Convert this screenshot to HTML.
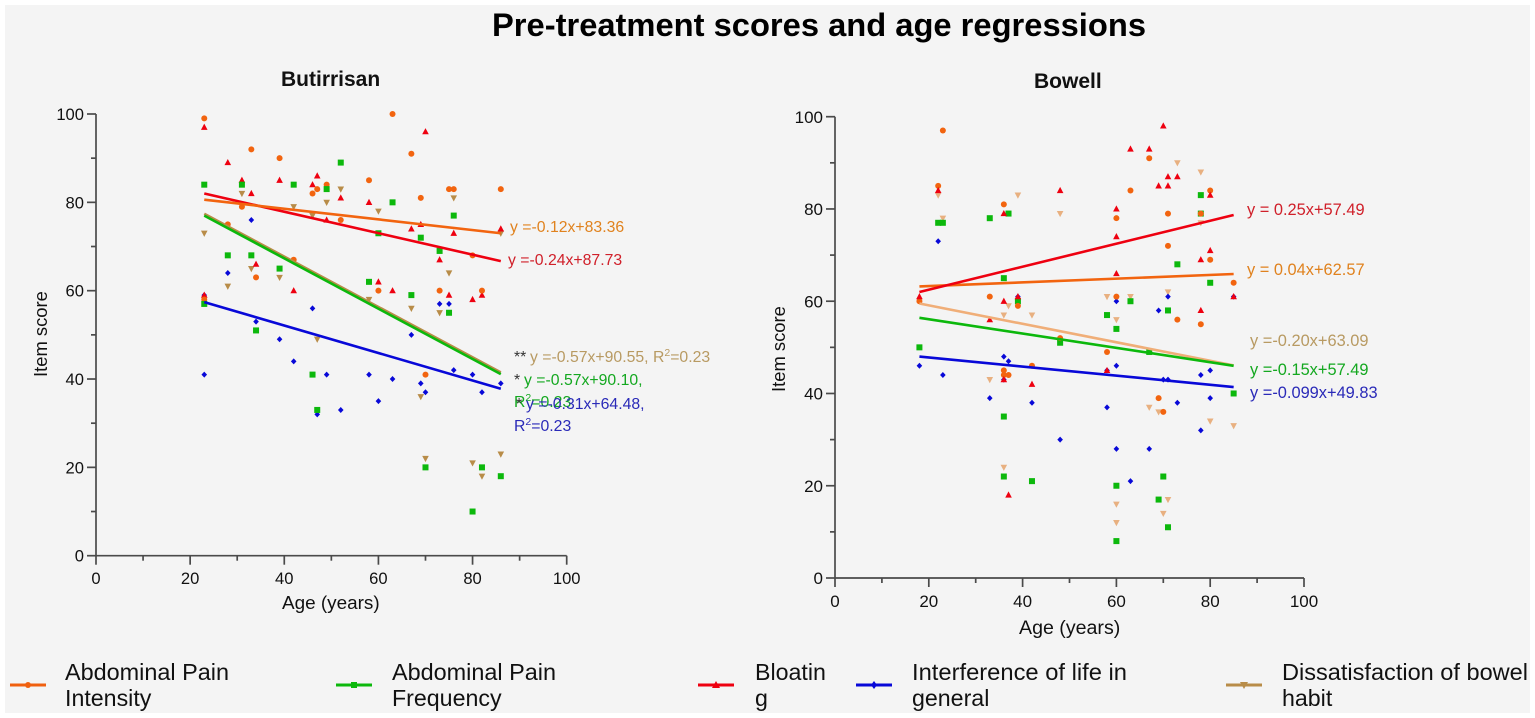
<!DOCTYPE html>
<html lang="en">
<head>
<meta charset="utf-8">
<title>Pre-treatment scores and age regressions</title>
<style>
html,body{margin:0;padding:0;background:#fff;}
body{width:1535px;height:718px;overflow:hidden;}
svg{display:block;font-family:"Liberation Sans",Arial,sans-serif;filter:blur(0.35px);}
</style>
</head>
<body>
<svg id="figure" width="1535" height="718" viewBox="0 0 1535 718" xmlns="http://www.w3.org/2000/svg">
  <rect x="5" y="5" width="1525" height="708" fill="#f4f4f4"/>
  <text x="492" y="36" font-size="32" font-weight="bold" fill="#000" textLength="654" lengthAdjust="spacingAndGlyphs">Pre-treatment scores and age regressions</text>

  <text x="281" y="86" font-size="21" font-weight="bold" fill="#111">Butirrisan</text>
  <text x="1034" y="88" font-size="21" font-weight="bold" fill="#111">Bowell</text>

  <g id="panel-left"></g>
  <g id="panel-right"></g>

  <text x="282" y="609" font-size="18.9" fill="#111">Age (years)</text>
  <text transform="translate(47,377) rotate(-90)" font-size="18.4" fill="#111">Item score</text>
  <text x="1019" y="634" font-size="19.6" fill="#111">Age (years)</text>
  <text transform="translate(785,392) rotate(-90)" font-size="18.4" fill="#111">Item score</text>

  <g font-size="15.8">
    <text x="510" y="232" fill="#e0821e">y =-0.12x+83.36</text>
    <text x="508" y="265" fill="#d0202a">y =-0.24x+87.73</text>
    <text x="514" y="362" fill="#333">**</text>
    <text x="530" y="362" fill="#b89a62">y =-0.57x+90.55, R<tspan dy="-6" font-size="10.5">2</tspan><tspan dy="6">=0.23</tspan></text>
    <text x="514" y="385" fill="#333">*</text>
    <text x="524" y="385" fill="#14a820">y =-0.57x+90.10,</text>
    <text x="514" y="407" fill="#14a820">R<tspan dy="-6" font-size="10.5">2</tspan><tspan dy="6">=0.23</tspan></text>
    <text x="516" y="409" fill="#333">*</text>
    <text x="526" y="409" fill="#2a2ab8">y =-0.31x+64.48,</text>
    <text x="514" y="431" fill="#2a2ab8">R<tspan dy="-6" font-size="10.5">2</tspan><tspan dy="6">=0.23</tspan></text>
  </g>

  <g font-size="16.4">
    <text x="1247" y="215" fill="#d0202a">y = 0.25x+57.49</text>
    <text x="1247" y="275" fill="#e0821e">y = 0.04x+62.57</text>
    <text x="1250" y="346" fill="#b89a62">y =-0.20x+63.09</text>
    <text x="1250" y="375" fill="#14a820">y =-0.15x+57.49</text>
    <text x="1250" y="398" fill="#2a2ab8">y =-0.099x+49.83</text>
  </g>

  <g font-size="23.2" fill="#111">
    <g>
      <line x1="10" x2="46" y1="685" y2="685" stroke="#f0600f" stroke-width="3"/>
      <circle cx="28" cy="685" r="3" fill="#f0600f"/>
      <text x="65" y="680" textLength="164" lengthAdjust="spacingAndGlyphs">Abdominal Pain</text>
      <text x="65" y="706">Intensity</text>
    </g>
    <g>
      <line x1="336" x2="372" y1="685" y2="685" stroke="#0cb80c" stroke-width="3"/>
      <rect x="351" y="682" width="6" height="6" fill="#0cb80c"/>
      <text x="392" y="680" textLength="164" lengthAdjust="spacingAndGlyphs">Abdominal Pain</text>
      <text x="392" y="706">Frequency</text>
    </g>
    <g>
      <line x1="698" x2="734" y1="685" y2="685" stroke="#ee0010" stroke-width="3"/>
      <polygon points="716,681 720,688 712,688" fill="#ee0010"/>
      <text x="755" y="680">Bloatin</text>
      <text x="755" y="706">g</text>
    </g>
    <g>
      <line x1="856" x2="892" y1="685" y2="685" stroke="#0808d8" stroke-width="3"/>
      <polygon points="874,681 877,685 874,689 871,685" fill="#0808d8"/>
      <text x="912" y="680" textLength="215" lengthAdjust="spacingAndGlyphs">Interference of life in</text>
      <text x="912" y="706">general</text>
    </g>
    <g>
      <line x1="1226" x2="1262" y1="685" y2="685" stroke="#b88c48" stroke-width="3"/>
      <polygon points="1240,682 1248,682 1244,689" fill="#b88c48"/>
      <text x="1282" y="680" textLength="246" lengthAdjust="spacingAndGlyphs">Dissatisfaction of bowel</text>
      <text x="1282" y="706">habit</text>
    </g>
  </g>
</svg>

<script>
// Axis tick values
const xTickValues = [0, 20, 40, 60, 80, 100];
const yTickValues = [0, 20, 40, 60, 80, 100];
const xMinorTickValues = [10, 30, 50, 70, 90];
const yMinorTickValues = [10, 30, 50, 70, 90];

// Butirrisan scatter data
const leftIntensityAge = [23,23,28,31,33,34,39,42,46,47,49,52,58,60,63,67,69,70,73,75,76,80,82,86];
const leftIntensityScore = [99,58,75,79,92,63,90,67,82,83,84,76,85,60,100,91,81,41,60,83,83,68,60,83];
const leftFrequencyAge = [23,23,28,31,33,34,39,42,46,47,49,52,58,60,63,67,69,70,73,75,76,80,82,86];
const leftFrequencyScore = [84,57,68,84,68,51,65,84,41,33,83,89,62,73,80,59,72,20,69,55,77,10,20,18];
const leftBloatingAge = [23,23,28,31,33,34,39,42,46,47,49,52,58,60,63,67,69,70,73,75,76,80,82,86];
const leftBloatingScore = [97,59,89,85,82,66,85,60,84,86,76,81,80,62,60,74,75,96,67,59,73,58,59,74];
const leftInterferenceAge = [23,23,28,33,34,39,42,46,47,49,52,58,60,63,67,69,70,73,75,76,80,82,86];
const leftInterferenceScore = [59,41,64,76,53,49,44,56,32,41,33,41,35,40,50,39,37,57,57,42,41,37,39];
const leftDissatisfactionAge = [23,28,31,33,39,42,46,47,49,52,58,60,67,69,70,73,75,76,80,82,86,86];
const leftDissatisfactionScore = [73,61,82,65,63,79,77,49,80,83,58,78,56,36,22,55,64,81,21,18,23,73];

// Bowell scatter data
const rightIntensityAge = [18,22,23,33,36,36,36,37,39,42,48,58,60,60,63,67,69,70,71,71,73,78,78,80,80,85];
const rightIntensityScore = [60,85,97,61,81,45,44,44,59,46,52,49,78,61,84,91,39,36,79,72,56,79,55,84,69,64];
const rightFrequencyAge = [18,22,23,33,36,36,36,37,39,42,48,58,60,60,60,63,67,69,70,71,71,73,78,78,80,85];
const rightFrequencyScore = [50,77,77,78,65,35,22,79,60,21,51,57,54,20,8,60,49,17,22,58,11,68,83,79,64,40];
const rightBloatingAge = [18,22,33,36,36,36,37,39,42,48,58,60,60,60,63,67,69,70,71,71,73,78,78,80,80,85];
const rightBloatingScore = [61,84,56,60,79,43,18,61,42,84,45,80,74,66,93,93,85,98,87,85,87,69,58,71,83,61];
const rightInterferenceAge = [18,22,23,33,36,36,37,39,42,48,58,58,60,60,60,63,67,69,70,71,71,73,78,78,80,80,85];
const rightInterferenceScore = [46,73,44,39,48,43,47,61,38,30,37,45,60,46,28,21,28,58,43,61,43,38,44,32,45,39,61];
const rightDissatisfactionAge = [22,23,33,36,36,37,39,42,48,58,60,60,60,63,67,69,70,71,71,73,78,78,80,85];
const rightDissatisfactionScore = [83,78,43,57,24,59,83,57,79,61,56,16,12,61,37,36,14,62,17,90,88,77,34,33];

// Regression line end values
const leftFitAge = [23, 86];
const leftIntensityFit = [80.6, 73];
const leftFrequencyFit = [77, 41.1];
const leftBloatingFit = [82, 66.7];
const leftInterferenceFit = [57.4, 37.8];
const leftDissatisfactionFit = [77.4, 41.5];
const rightFitAge = [18, 85];
const rightIntensityFit = [63.2, 65.9];
const rightFrequencyFit = [56.4, 46];
const rightBloatingFit = [62, 78.7];
const rightInterferenceFit = [48, 41.4];
const rightDissatisfactionFit = [59.5, 46.1];

const NS = 'http://www.w3.org/2000/svg';
const INK = '#4a4a4a';
const ORANGE = '#f2640f', GREEN = '#0cb80c', RED = '#ee0010', BLUE = '#0808d8';

function make(parent, tag, attrs) {
  const el = document.createElementNS(NS, tag);
  for (const k in attrs) el.setAttribute(k, attrs[k]);
  parent.appendChild(el);
  return el;
}

function drawMarker(parent, kind, px, py, color, name) {
  let el;
  if (kind === 'circle') {
    el = make(parent, 'circle', {cx: px, cy: py, r: 3, fill: color});
  } else if (kind === 'square') {
    el = make(parent, 'rect', {x: px - 3, y: py - 3, width: 6, height: 6, fill: color});
  } else if (kind === 'up') {
    el = make(parent, 'polygon', {points: [px, py - 3.6, px + 3.3, py + 2.6, px - 3.3, py + 2.6].join(' '), fill: color});
  } else if (kind === 'down') {
    el = make(parent, 'polygon', {points: [px - 3.3, py - 2.6, px + 3.3, py - 2.6, px, py + 3.6].join(' '), fill: color});
  } else {
    el = make(parent, 'polygon', {points: [px, py - 3, px + 2.8, py, px, py + 3, px - 2.8, py].join(' '), fill: color});
  }
  
  
}

function drawPanel(root, prefix, box, labelSize, fitAge, seriesList) {
  const xScale = v => box.x0 + (v / 100) * (box.x100 - box.x0);
  const yScale = v => box.y0 - (v / 100) * (box.y0 - box.y100);

  const axis = make(root, 'g', {stroke: INK, 'stroke-width': 1.7, fill: 'none'});
  
  

  const xLine = make(axis, 'line', {x1: box.x0, x2: box.x100, y1: box.y0, y2: box.y0});
  
  
  const yLine = make(axis, 'line', {x1: box.x0, x2: box.x0, y1: box.y100, y2: box.y0});
  
  

  xTickValues.forEach(v => {
    const t = make(axis, 'line', {x1: xScale(v), x2: xScale(v), y1: box.y0, y2: box.y0 + 9});
    
    
    const l = make(root, 'text', {x: xScale(v), y: box.xLabelY, 'text-anchor': 'middle', 'font-size': labelSize, fill: '#111'});
    l.textContent = v;
    
    
  });
  xMinorTickValues.forEach(v => {
    const t = make(axis, 'line', {x1: xScale(v), x2: xScale(v), y1: box.y0, y2: box.y0 + 5});
    
    
  });
  yTickValues.forEach(v => {
    const t = make(axis, 'line', {x1: box.x0 - 9, x2: box.x0, y1: yScale(v), y2: yScale(v)});
    
    
    const l = make(root, 'text', {x: box.x0 - 12, y: yScale(v) + labelSize * 0.36, 'text-anchor': 'end', 'font-size': labelSize, fill: '#111'});
    l.textContent = v;
    
    
  });
  yMinorTickValues.forEach(v => {
    const t = make(axis, 'line', {x1: box.x0 - 5, x2: box.x0, y1: yScale(v), y2: yScale(v)});
    
    
  });

  seriesList.forEach(s => {
    const g = make(root, 'g', {});
    
    
    s.age.forEach((a, i) => {
      drawMarker(g, s.kind, xScale(a), yScale(s.score[i]), s.color, prefix + '-point-' + s.name);
    });
  });
  seriesList.forEach(s => {
    const ln = make(root, 'line', {
      x1: xScale(fitAge[0]), x2: xScale(fitAge[1]),
      y1: yScale(s.fit[0]), y2: yScale(s.fit[1]),
      stroke: s.lineColor || s.color, 'stroke-width': 2.6
    });
    
    
  });
}

drawPanel(document.getElementById('panel-left'), 'butirrisan',
  {x0: 96, x100: 566.7, y0: 555.7, y100: 114, xLabelY: 584}, 16.6, leftFitAge, [
  {name: 'dissatisfaction', kind: 'down', color: '#b88c48', age: leftDissatisfactionAge, score: leftDissatisfactionScore, fit: leftDissatisfactionFit},
  {name: 'interference', kind: 'diamond', color: BLUE, age: leftInterferenceAge, score: leftInterferenceScore, fit: leftInterferenceFit},
  {name: 'bloating', kind: 'up', color: RED, age: leftBloatingAge, score: leftBloatingScore, fit: leftBloatingFit},
  {name: 'pain-intensity', kind: 'circle', color: ORANGE, age: leftIntensityAge, score: leftIntensityScore, fit: leftIntensityFit},
  {name: 'pain-frequency', kind: 'square', color: GREEN, age: leftFrequencyAge, score: leftFrequencyScore, fit: leftFrequencyFit}
]);

drawPanel(document.getElementById('panel-right'), 'bowell',
  {x0: 835, x100: 1304, y0: 578, y100: 116.7, xLabelY: 607}, 17, rightFitAge, [
  {name: 'dissatisfaction', kind: 'down', color: '#e8b080', lineColor: '#f0ae78', age: rightDissatisfactionAge, score: rightDissatisfactionScore, fit: rightDissatisfactionFit},
  {name: 'interference', kind: 'diamond', color: BLUE, age: rightInterferenceAge, score: rightInterferenceScore, fit: rightInterferenceFit},
  {name: 'pain-frequency', kind: 'square', color: GREEN, age: rightFrequencyAge, score: rightFrequencyScore, fit: rightFrequencyFit},
  {name: 'pain-intensity', kind: 'circle', color: ORANGE, age: rightIntensityAge, score: rightIntensityScore, fit: rightIntensityFit},
  {name: 'bloating', kind: 'up', color: RED, age: rightBloatingAge, score: rightBloatingScore, fit: rightBloatingFit}
]);
</script>
</body>
</html>
